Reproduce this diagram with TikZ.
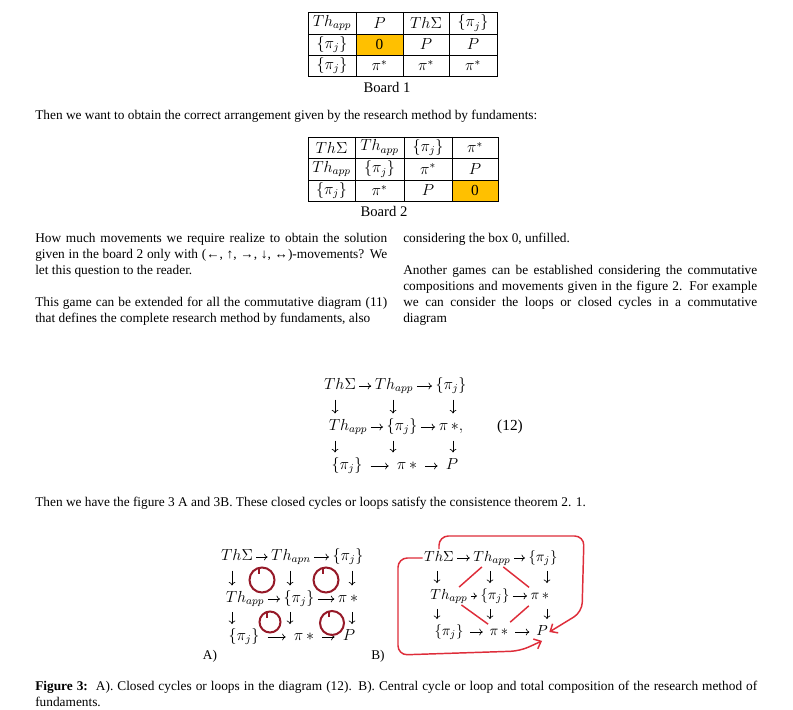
\documentclass[tikz,border=0pt]{standalone}
\usepackage{amsmath,amssymb}
\usepackage{fontspec}
\setmainfont{Liberation Serif}
\usepackage{xcolor}
\usetikzlibrary{positioning,arrows.meta}
\definecolor{cellorange}{HTML}{FFC000}
\definecolor{loopred}{RGB}{150,25,40}
\definecolor{cycred}{RGB}{222,45,58}
\setlength{\parindent}{0pt}

\begin{document}
\begin{tikzpicture}[x=0.75pt,y=-0.75pt,
  ent/.style={inner sep=1pt,text height=8pt,text depth=3pt,font=\fontsize{#1}{14}\selectfont},
  ent/.default=12,
  harr/.style={-{To[length=2.6pt,width=5pt]},line width=0.5pt,shorten <=#1,shorten >=#1},
  harr/.default=1.5pt,
  varr/.style={-{To[length=2.6pt,width=5pt]},line width=0.5pt,shorten <=#1,shorten >=#1},
  cell/.style={inner sep=0pt,font=\fontsize{11.5}{13}\selectfont},
  para/.style={anchor=north west,inner sep=0pt,align=justify,font=\fontsize{10}{12}\selectfont},
  tline/.style={anchor=west,inner sep=0pt,font=\fontsize{10}{12}\selectfont},
  tabline/.style={line width=0.6pt},
  redloop/.style={loopred,line width=1.5pt},
  cyc/.style={cycred,line width=1.1pt,rounded corners=7pt}]
  \fill[white] (0,0) rectangle (793,710);
  \useasboundingbox (0,0) rectangle (793,710);

  % board 1
  \fill[cellorange] (356,34) rectangle (403,55);
  \draw[tabline] (308,12) rectangle (497,76);
  \foreach \y in {34,55} \draw[tabline] (308,\y) -- (497,\y);
  \foreach \x in {356,403,449} \draw[tabline] (\x,12) -- (\x,76);
  \foreach \r/\y/\a/\b/\c/\d in {1/23/{$Th_{app}$}/{$P$}/{$Th\Sigma$}/{$\{\pi_j\}$},
      2/44.5/{$\{\pi_j\}$}/{0}/{$P$}/{$P$},
      3/65.5/{$\{\pi_j\}$}/{$\pi^*$}/{$\pi^*$}/{$\pi^*$}} {
    \node[cell] (ba\r1) at (332,\y) {\a};
    \node[cell] (ba\r2) at (379.5,\y) {\b};
    \node[cell] (ba\r3) at (426,\y) {\c};
    \node[cell] (ba\r4) at (473,\y) {\d};
  }
  \node[cell,font=\fontsize{11}{13}\selectfont] (bacap) at (387,87) {Board 1};

  \node[tline] (intro) at (35,116) {Then we want to obtain the correct arrangement given by the research method by fundaments:};

  % board 2
  \fill[cellorange] (452,180) rectangle (498,201);
  \draw[tabline] (308,137) rectangle (498,201);
  \foreach \y in {158,180} \draw[tabline] (308,\y) -- (498,\y);
  \foreach \x in {355,404,452} \draw[tabline] (\x,137) -- (\x,201);
  \foreach \r/\y/\a/\b/\c/\d in {1/147.5/{$Th\Sigma$}/{$Th_{app}$}/{$\{\pi_j\}$}/{$\pi^*$},
      2/169/{$Th_{app}$}/{$\{\pi_j\}$}/{$\pi^*$}/{$P$},
      3/190.5/{$\{\pi_j\}$}/{$\pi^*$}/{$P$}/{0}} {
    \node[cell] (bb\r1) at (331.5,\y) {\a};
    \node[cell] (bb\r2) at (379.5,\y) {\b};
    \node[cell] (bb\r3) at (428,\y) {\c};
    \node[cell] (bb\r4) at (475,\y) {\d};
  }
  \node[cell,font=\fontsize{11}{13}\selectfont] (bbcap) at (384,211) {Board 2};

  % two columns
  \node[para,text width=264pt] (lpa) at (35,233) {How much movements we require realize to obtain the solution\linebreak given in the board 2 only with (←, ↑, →, ↓, ↔)-movements? We\linebreak let this question to the reader.};
  \node[para,text width=264pt] (lpb) at (35,297) {\parfillskip=0pt This game can be extended for all the commutative diagram (11)\linebreak that defines the complete research method by fundaments, also};
  \node[para,text width=265.5pt] (rpa) at (403,233) {considering the box 0, unfilled.};
  \node[para,text width=265.5pt] (rpb) at (403,265) {Another games can be established considering the commutative\linebreak compositions and movements given in the figure 2. For example\linebreak we can consider the loops or closed cycles in a commutative\linebreak diagram};

  % diagram (12)
  \node[ent] (e11) at (340,386) {$Th\Sigma$};
  \node[ent] (e12) at (394,386) {$Th_{app}$};
  \node[ent] (e13) at (451,386) {$\{\pi_j\}$};
  \node[ent] (e21) at (348,427) {$Th_{app}$};
  \node[ent] (e22) at (402,427) {$\{\pi_j\}$};
  \node[ent] (e23) at (451,427) {$\pi\,{\ast},$};
  \node[ent] (e31) at (347,466) {$\{\pi_j\}$};
  \node[ent] (e32) at (407,466) {$\pi\,{\ast}$};
  \node[ent] (e33) at (452,466) {$P$};
  \node[cell] (eqno) at (510,427) {(12)};
  \coordinate (ec1) at (335,0);
  \coordinate (ec2) at (393,0);
  \coordinate (ec3) at (453,0);
  \foreach \r in {1,2} {
    \draw[harr] (e\r1) -- (e\r2);
    \draw[harr] (e\r2) -- (e\r3);
  }
  \draw[harr=5pt] (e31) -- (e32);
  \draw[harr=5pt] (e32) -- (e33);
  \foreach \c in {1,2,3} {
    \draw[varr=3.5pt] (e1\c.south -| ec\c) -- (e2\c.north -| ec\c);
    \draw[varr=3.5pt] (e2\c.south -| ec\c) -- (e3\c.north -| ec\c);
  }

  \node[tline] (then) at (35,503) {Then we have the figure 3 A and 3B. These closed cycles or loops satisfy the consistence theorem 2. 1.};

  % figure 3 A
  \node[ent] (a11) at (237,557) {$Th\Sigma$};
  \node[ent] (a12) at (291,557) {$Th_{apn}$};
  \node[ent] (a13) at (348,557) {$\{\pi_j\}$};
  \node[ent] (a21) at (245,599) {$Th_{app}$};
  \node[ent] (a22) at (299,599) {$\{\pi_j\}$};
  \node[ent] (a23) at (348,599) {$\pi\,{\ast}$};
  \node[ent] (a31) at (244,637) {$\{\pi_j\}$};
  \node[ent] (a32) at (304,637) {$\pi\,{\ast}$};
  \node[ent] (a33) at (349,637) {$P$};
  \coordinate (ac1) at (232,0);
  \coordinate (ac2) at (290,0);
  \coordinate (ac3) at (352,0);
  \foreach \r in {1,2} {
    \draw[harr] (a\r1) -- (a\r2);
    \draw[harr] (a\r2) -- (a\r3);
  }
  \draw[harr=5pt] (a31) -- (a32);
  \draw[harr=5pt] (a32) -- (a33);
  \foreach \c in {1,2,3} {
    \draw[varr=3.5pt] (a1\c.south -| ac\c) -- (a2\c.north -| ac\c);
    \draw[varr=3pt] (a2\c.south -| ac\c) -- (a3\c.north -| ac\c);
  }
  \foreach \cx/\cy/\rr in {262/580/12.5, 326/580/12.5, 270/622/10.5, 332/623/12} {
    \draw[redloop] (\cx,\cy) circle[radius=\rr];
    \draw[redloop] (\cx-3,\cy-\rr) -- ++(0,6);
  }
  \node[tline,anchor=center] (la) at (210,656) {A)};

  % figure 3 B
  \node[ent=11] (b11) at (439,558) {$Th\Sigma$};
  \node[ent=11] (b12) at (492,558) {$Th_{app}$};
  \node[ent=11] (b13) at (543,558) {$\{\pi_j\}$};
  \node[ent=11] (b21) at (449,596) {$Th_{app}$};
  \node[ent=11] (b22) at (495,596) {$\{\pi_j\}$};
  \node[ent=11] (b23) at (540,596) {$\pi\,{\ast}$};
  \node[ent=11] (b31) at (449,632) {$\{\pi_j\}$};
  \node[ent=11] (b32) at (499,632) {$\pi\,{\ast}$};
  \node[ent=11] (b33) at (542,632) {$P$};
  \coordinate (bc1) at (437,0);
  \coordinate (bc2) at (490,0);
  \coordinate (bc3) at (547,0);
  \foreach \r in {1,2} {
    \draw[harr] (b\r1) -- (b\r2);
    \draw[harr] (b\r2) -- (b\r3);
  }
  \draw[harr=4pt] (b31) -- (b32);
  \draw[harr=4pt] (b32) -- (b33);
  \foreach \c in {1,2,3} {
    \draw[varr=3pt] (b1\c.south -| bc\c) -- (b2\c.north -| bc\c);
    \draw[varr=3pt] (b2\c.south -| bc\c) -- (b3\c.north -| bc\c);
  }
  \draw[cycred,line width=1.1pt,shorten <=1pt,shorten >=1pt] (b12) -- (b21) (b12) -- (b23)
    (b21) -- (b32) (b23) -- (b32);
  \coordinate (tr) at (584,536);
  \coordinate (rt) at (582,612);
  \coordinate (bl) at (398,655);
  \coordinate (bm) at (520,651);
  \draw[cyc,-{Straight Barb[length=4.5pt,width=8pt]}] (b11.north) |- (tr) -- (rt) -- (b33.east);
  \draw[cyc,-{Straight Barb[length=4.5pt,width=8pt]}] (b11.west) -| (bl) -- (bm) -- (b33.south);
  \node[tline,anchor=center] (lb) at (378,656) {B)};

  \node[para,text width=541.5pt] (cap) at (35,681) {\textbf{Figure 3:}\ \ A). Closed cycles or loops in the diagram (12). B). Central cycle or loop and total composition of the research method of\linebreak fundaments.};
\end{tikzpicture}
\end{document}
